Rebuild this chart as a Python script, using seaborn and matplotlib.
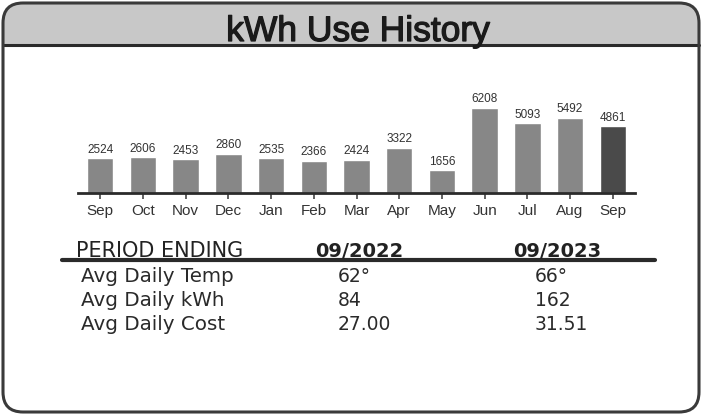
import matplotlib
matplotlib.use("Agg")
import matplotlib.pyplot as plt
import matplotlib.patheffects as pe
from matplotlib.patches import FancyBboxPatch, Rectangle
from matplotlib.lines import Line2D
import pandas as pd
import seaborn as sns

# bar data
keys = ["Sep-22", "Oct-22", "Nov-22", "Dec-22", "Jan-23", "Feb-23", "Mar-23",
        "Apr-23", "May-23", "Jun-23", "Jul-23", "Aug-23", "Sep-23"]
months = ["Sep", "Oct", "Nov", "Dec", "Jan", "Feb", "Mar",
          "Apr", "May", "Jun", "Jul", "Aug", "Sep"]
kwh = [2524, 2606, 2453, 2860, 2535, 2366, 2424, 3322, 1656, 6208, 5093, 5492, 4861]

# table below the bars
periods = ["09/2022", "09/2023"]
row_labels = ["Avg Daily Temp", "Avg Daily kWh", "Avg Daily Cost"]
vals_2022 = ["62°", "84", "27.00"]
vals_2023 = ["66°", "162", "31.51"]

W, H, DPI = 702, 415, 100
sns.set_theme(style="white")
plt.rcParams["font.family"] = ["Liberation Sans", "DejaVu Sans"]

fig = plt.figure(figsize=(W / DPI, H / DPI), dpi=DPI)
fig.patch.set_facecolor("white")

def inch(x, y):
    # pixel (top-left origin) -> inches (bottom-left origin)
    return x / DPI, (H - y) / DPI

def fx(x, y):
    return x / W, 1 - y / H

# outer rounded frame
x0, y0 = inch(3, 412)
box = FancyBboxPatch((x0, y0), 696 / DPI, 409 / DPI,
                     boxstyle="round,pad=0,rounding_size=0.2",
                     transform=fig.dpi_scale_trans, facecolor="white",
                     edgecolor="none", zorder=0)
fig.add_artist(box)
hx, hy = inch(0, 45)
header = Rectangle((hx, hy), W / DPI, 45 / DPI, transform=fig.dpi_scale_trans,
                   facecolor="#c8c8c8", edgecolor="none", zorder=0.5)
header.set_clip_path(box)
fig.add_artist(header)
frame = FancyBboxPatch((x0, y0), 696 / DPI, 409 / DPI,
                       boxstyle="round,pad=0,rounding_size=0.2",
                       transform=fig.dpi_scale_trans, facecolor="none",
                       edgecolor="#3a3a3a", linewidth=2.2, zorder=3)
fig.add_artist(frame)
fig.add_artist(Line2D([3 / W, 699 / W], [1 - 45 / H, 1 - 45 / H],
                      transform=fig.transFigure, color="#2a2a2a", lw=2.2))

fig.text(*fx(358, 41), "kWh Use History", ha="center", va="baseline",
         fontsize=25.5, color="#1a1a1a",
         path_effects=[pe.withStroke(linewidth=0.9, foreground="#1a1a1a")])

# bar chart
df = pd.DataFrame({"key": keys, "kwh": kwh})
colors = {k: "#878787" for k in keys}
colors[keys[-1]] = "#4a4a4a"

ax = fig.add_axes([78 / W, 222 / H, (635 - 78) / W, 95.8 / H])
sns.barplot(data=df, x="key", y="kwh", hue="key", palette=colors,
            legend=False, width=0.62, saturation=1, ax=ax)
for c in ax.containers:
    ax.bar_label(c, fmt="%d", padding=2, fontsize=8.5, color="#333333")
ax.set_xlim(-0.52, 12.52)
ax.set_ylim(0, 7000)
ax.set_xticks(range(len(months)))
ax.set_xticklabels(months, fontsize=11, color="#333333")
ax.set_yticks([])
ax.set_xlabel("")
ax.set_ylabel("")
ax.patch.set_alpha(0)
for s in ["left", "right", "top"]:
    ax.spines[s].set_visible(False)
ax.spines["bottom"].set_linewidth(2)
ax.spines["bottom"].set_color("#2a2a2a")
ax.tick_params(axis="x", bottom=True, length=4, width=1.2, color="#444444", pad=4)

# table
tfam = ["DejaVu Sans"]
fig.text(*fx(76, 257), "PERIOD ENDING", ha="left", va="baseline", fontsize=15,
         color="#222222", family=tfam)
fig.text(*fx(315, 257), periods[0], ha="left", va="baseline", fontsize=14,
         weight="bold", color="#222222", family=tfam)
fig.text(*fx(513, 257), periods[1], ha="left", va="baseline", fontsize=14,
         weight="bold", color="#222222", family=tfam)
fig.add_artist(Line2D([62 / W, 655 / W], [1 - 260 / H, 1 - 260 / H],
                      transform=fig.transFigure, color="#2a2a2a", lw=3))
row_y = [282, 306, 330]
for lab, a, b, y in zip(row_labels, vals_2022, vals_2023, row_y):
    fig.text(*fx(81, y), lab, ha="left", va="baseline", fontsize=14.3,
             color="#2a2a2a", family=tfam)
    fig.text(*fx(338, y), a, ha="left", va="baseline", fontsize=13.5,
             color="#2a2a2a", family=tfam)
    fig.text(*fx(535, y), b, ha="left", va="baseline", fontsize=13.5,
             color="#2a2a2a", family=tfam)

fig.savefig("out.png", dpi=DPI)
